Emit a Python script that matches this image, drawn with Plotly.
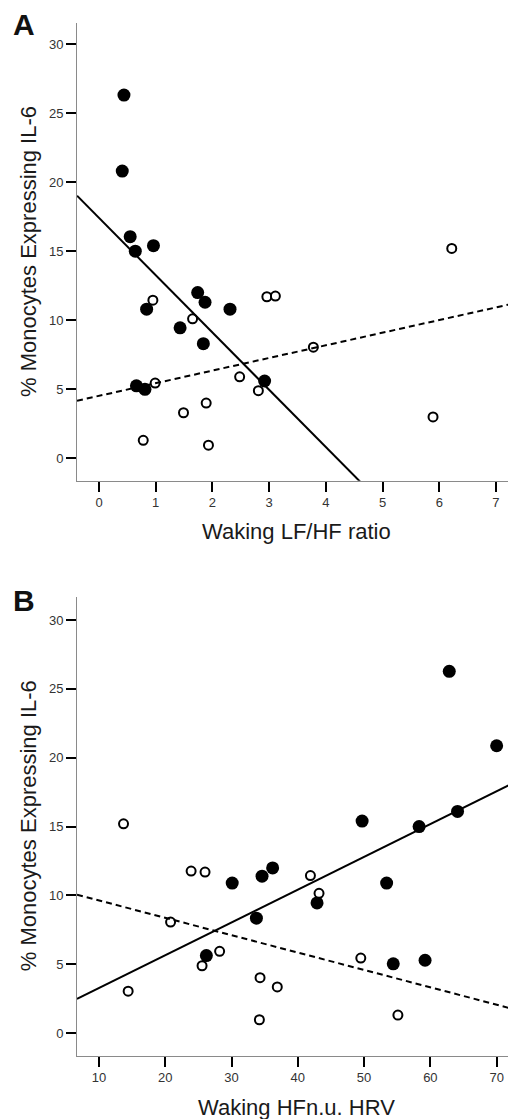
import plotly.graph_objects as go

# ---------------- data ----------------
# Panel A: Waking LF/HF ratio vs % monocytes expressing IL-6
a_filled_x = [0.44, 0.41, 0.55, 0.96, 0.64, 1.74, 1.87, 0.84, 2.31, 1.43, 1.84, 0.66, 0.81, 2.92]
a_filled_y = [26.3, 20.8, 16.05, 15.4, 15.0, 12.0, 11.3, 10.8, 10.8, 9.45, 8.3, 5.25, 5.0, 5.6]
a_open_x = [6.22, 2.96, 3.11, 0.95, 1.65, 3.78, 0.99, 2.48, 2.81, 1.89, 1.49, 5.89, 0.78, 1.93]
a_open_y = [15.2, 11.7, 11.75, 11.45, 10.1, 8.05, 5.45, 5.9, 4.9, 4.0, 3.3, 3.0, 1.3, 0.95]
# fitted lines (slope, intercept)
a_solid_fit = [-4.148, 17.41]
a_dashed_fit = [0.9146, 4.525]

# Panel B: Waking HFn.u. HRV vs % monocytes expressing IL-6
b_filled_x = [62.85, 70.0, 64.1, 49.7, 58.3, 36.2, 34.6, 30.1, 53.4, 42.9, 33.75, 26.2, 54.4, 59.2]
b_filled_y = [26.27, 20.87, 16.1, 15.4, 15.0, 12.0, 11.4, 10.9, 10.9, 9.46, 8.35, 5.64, 5.04, 5.3]
b_open_x = [13.7, 23.9, 26.0, 41.9, 43.2, 20.8, 28.2, 49.5, 25.55, 34.3, 36.9, 14.4, 55.1, 34.2]
b_open_y = [15.2, 11.77, 11.7, 11.45, 10.16, 8.07, 5.95, 5.46, 4.9, 4.03, 3.36, 3.05, 1.32, 0.98]
b_solid_fit = [0.2381, 0.899]
b_dashed_fit = [-0.1261, 10.90]

y_ticks = [0, 5, 10, 15, 20, 25, 30]
a_x_ticks = [0, 1, 2, 3, 4, 5, 6, 7]
b_x_ticks = [10, 20, 30, 40, 50, 60, 70]

a_x_range = [-0.388, 7.353]
b_x_range = [6.68, 72.92]
a_y_range = [-1.62, 31.5]
b_y_range = [-1.63, 31.69]

y_title = "% Monocytes Expressing IL-6"
a_x_title = "Waking LF/HF ratio"
b_x_title = "Waking HFn.u. HRV"

# ---------------- figure ----------------
OFF = 8  # page body margin
W, H = 516 - OFF, 1119 - OFF
ML = 77 - OFF
PW = W - ML
FONT = "Liberation Sans, Arial, Helvetica, sans-serif"


def py(px):
    return 1 - (px - OFF) / H


def pxx(px):
    return (px - OFF - ML) / PW


fig = go.Figure()


def add_panel(fx, fy, ox, oy, solid, dashed, xr, xa, ya):
    fig.add_trace(go.Scatter(x=fx, y=fy, mode="markers", xaxis=xa, yaxis=ya,
                             marker=dict(size=13, color="black", line=dict(width=0)),
                             showlegend=False, hoverinfo="skip"))
    fig.add_trace(go.Scatter(x=ox, y=oy, mode="markers", xaxis=xa, yaxis=ya,
                             marker=dict(size=9, color="white", line=dict(width=2, color="black")),
                             showlegend=False, hoverinfo="skip"))
    for fit, dash in ((solid, "solid"), (dashed, "6px,4px")):
        xs = [xr[0], xr[1]]
        ys = [fit[0] * v + fit[1] for v in xs]
        fig.add_trace(go.Scatter(x=xs, y=ys, mode="lines", xaxis=xa, yaxis=ya,
                                 line=dict(color="black", width=2, dash=dash),
                                 showlegend=False, hoverinfo="skip"))


add_panel(a_filled_x, a_filled_y, a_open_x, a_open_y, a_solid_fit, a_dashed_fit, a_x_range, "x", "y")
add_panel(b_filled_x, b_filled_y, b_open_x, b_open_y, b_solid_fit, b_dashed_fit, b_x_range, "x2", "y2")

axis_common = dict(showgrid=False, zeroline=False, showline=True, linecolor="#8a8a8a", linewidth=1,
                   ticks="outside", ticklen=10, tickwidth=2, tickcolor="black",
                   tickfont=dict(family=FONT, size=13, color="#333333"), mirror=False, fixedrange=True)

a_top, a_bot = 23.3, 480.7
b_top, b_bot = 596.7, 1055.7

fig.update_layout(
    width=W, height=H,
    margin=dict(l=ML, r=0, t=0, b=0),
    paper_bgcolor="white", plot_bgcolor="white",
    xaxis=dict(domain=[0, 1], range=a_x_range, tickvals=a_x_ticks, anchor="y", **axis_common),
    yaxis=dict(domain=[py(a_bot), py(a_top)], range=a_y_range, tickvals=y_ticks, anchor="x", **axis_common),
    xaxis2=dict(domain=[0, 1], range=b_x_range, tickvals=b_x_ticks, anchor="y2", **axis_common),
    yaxis2=dict(domain=[py(b_bot), py(b_top)], range=b_y_range, tickvals=y_ticks, anchor="x2", **axis_common),
)

ann = []
title_font = dict(family=FONT, size=22, color="#1a1a1a")
for top, bot, xt_y, xt in ((a_top, a_bot, 531.7, a_x_title), (b_top, b_bot, 1107.3, b_x_title)):
    ann.append(dict(text=y_title, xref="paper", yref="paper", x=pxx(28), y=py((top + bot) / 2),
                    xanchor="center", yanchor="middle", textangle=-90, showarrow=False, font=title_font))
    ann.append(dict(text=xt, xref="paper", yref="paper", x=0.5, y=py(xt_y),
                    xanchor="center", yanchor="middle", showarrow=False, font=title_font))
ann.append(dict(text="<b>A</b>", xref="paper", yref="paper", x=pxx(23.5), y=py(25),
                xanchor="center", yanchor="middle", showarrow=False,
                font=dict(family=FONT, size=30, color="#111111")))
ann.append(dict(text="<b>B</b>", xref="paper", yref="paper", x=pxx(24), y=py(600),
                xanchor="center", yanchor="middle", showarrow=False,
                font=dict(family=FONT, size=30, color="#111111")))
fig.update_layout(annotations=ann)

fig.write_html("out.html", config={"displayModeBar": False})
